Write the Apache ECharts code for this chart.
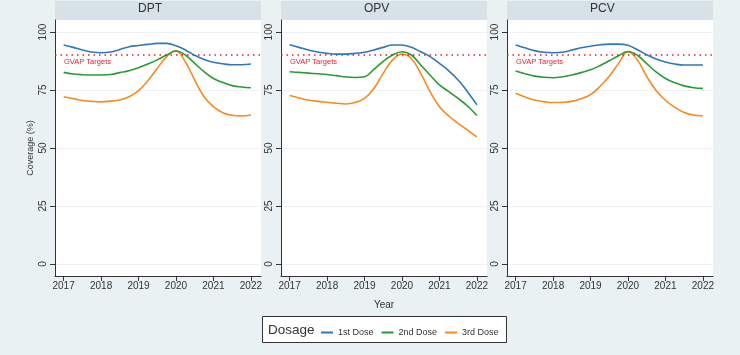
<!DOCTYPE html>
<html><head><meta charset="utf-8">
<script src="https://cdn.jsdelivr.net/npm/echarts@6/dist/echarts.min.js"></script>
<style>html,body{margin:0;padding:0;background:#eaf1f3}#c{width:740px;height:355px}</style>
</head><body><div id="c"></div>
<script>
const panels = ['DPT', 'OPV', 'PCV'];
const doses = ['1st Dose', '2nd Dose', '3rd Dose'];
const years = [2017, 2017.25, 2017.5, 2017.75, 2018, 2018.25, 2018.5, 2018.75, 2019, 2019.25, 2019.5,
  2019.75, 2020, 2020.25, 2020.5, 2020.75, 2021, 2021.25, 2021.5, 2021.75, 2022];
const yearTicks = [2017, 2018, 2019, 2020, 2021, 2022];
const yTicks = [0, 25, 50, 75, 100];
const gvapTarget = 90;

const dpt1 = [94.4, 93.4, 92.3, 91.4, 91.1, 91.4, 92.5, 93.7, 94.2, 94.7, 95.1, 95.1, 94.1, 92.3, 90.0, 88.2, 87.0, 86.3, 85.9, 85.9, 86.2];
const dpt2 = [82.6, 81.9, 81.6, 81.5, 81.5, 81.7, 82.5, 83.3, 84.6, 86.2, 88.0, 90.1, 91.8, 90.1, 86.5, 82.9, 80.0, 78.2, 76.9, 76.3, 76.0];
const dpt3 = [72.1, 71.3, 70.5, 70.1, 69.9, 70.2, 70.7, 72.1, 74.7, 79.0, 84.3, 89.4, 91.8, 87.2, 79.3, 72.1, 67.8, 65.2, 64.1, 63.8, 64.2];

const opv1 = [94.5, 93.4, 92.3, 91.4, 90.8, 90.5, 90.5, 90.8, 91.3, 92.3, 93.4, 94.4, 94.4, 93.4, 91.5, 89.4, 86.5, 83.3, 79.3, 74.3, 68.6];
const opv2 = [82.9, 82.6, 82.3, 82.0, 81.7, 81.2, 80.6, 80.4, 80.7, 83.9, 87.4, 90.1, 91.5, 90.1, 85.8, 81.5, 77.2, 74.3, 71.4, 68.1, 64.0];
const opv3 = [72.6, 71.6, 70.7, 70.1, 69.7, 69.3, 69.0, 69.6, 71.4, 75.7, 82.2, 88.0, 90.5, 88.6, 82.2, 74.3, 67.8, 63.8, 60.6, 57.7, 54.8];

const pcv1 = [94.4, 93.2, 92.0, 91.3, 91.1, 91.3, 92.2, 93.2, 93.9, 94.5, 94.8, 94.8, 94.3, 92.4, 90.2, 88.4, 87.1, 86.2, 85.8, 85.8, 85.8];
const pcv2 = [83.2, 82.0, 81.0, 80.5, 80.3, 80.7, 81.5, 82.5, 83.7, 85.5, 87.6, 89.8, 91.6, 90.0, 86.4, 82.8, 80.0, 78.1, 76.8, 76.0, 75.7];
const pcv3 = [73.6, 72.0, 70.7, 70.0, 69.6, 69.7, 70.1, 71.2, 73.0, 76.5, 80.9, 86.5, 91.5, 88.0, 80.9, 74.8, 70.6, 67.5, 65.3, 64.2, 63.8];

const panelData = [[dpt1, dpt2, dpt3], [opv1, opv2, opv3], [pcv1, pcv2, pcv3]];
const colors = ['#2f78b8', '#2a9a35', '#f58a1f'];

const gridLefts = [55, 281, 507];
const gridW = 206, gridTop = 20, gridH = 256;

const grids = [], xAxes = [], yAxes = [], series = [], graphics = [];
panels.forEach((name, i) => {
  grids.push({left: gridLefts[i], top: gridTop, width: gridW, height: gridH,
    show: true, backgroundColor: '#ffffff', borderWidth: 0});
  xAxes.push({type: 'value', gridIndex: i, min: 2016.77, max: 2022.27,
    name: i === 1 ? 'Year' : '', nameLocation: 'middle', nameGap: 24,
    nameTextStyle: {fontSize: 10, color: '#333', fontFamily: 'Liberation Sans'},
    axisLine: {onZero: false, lineStyle: {color: '#333', width: 1}},
    axisTick: {show: true, length: 5, customValues: yearTicks, lineStyle: {color: '#333'}},
    axisLabel: {customValues: yearTicks, fontSize: 10, color: '#333', margin: 5,
      fontFamily: 'Liberation Sans', formatter: v => String(v)},
    splitLine: {show: false}});
  yAxes.push({type: 'value', gridIndex: i, min: -5.2, max: 105.2,
    name: i === 0 ? 'Coverage (%)' : '', nameLocation: 'middle', nameGap: 20,
    nameTextStyle: {fontSize: 9, color: '#333', fontFamily: 'Liberation Sans'},
    axisLine: {show: true, onZero: false, lineStyle: {color: '#333', width: 1}},
    axisTick: {show: true, length: 5, customValues: yTicks, lineStyle: {color: '#333'}},
    axisLabel: {customValues: yTicks, rotate: 90, fontSize: 10, color: '#333', margin: 7,
      fontFamily: 'Liberation Sans'},
    splitLine: {show: true, lineStyle: {color: '#eef2f4', width: 1}}});
  panelData[i].forEach((vals, k) => {
    const s = {
      name: doses[k], type: 'line', xAxisIndex: i, yAxisIndex: i,
      data: years.map((y, j) => [y, vals[j]]),
      smooth: 0.4, showSymbol: false, symbol: 'none',
      lineStyle: {color: colors[k], width: 1.6}, itemStyle: {color: colors[k]},
      z: 5 - k
    };
    if (k === 0) {
      s.markLine = {silent: true, symbol: 'none',
        lineStyle: {color: '#e8192c', type: [1.5, 4], width: 1.6},
        label: {show: true, position: 'insideStartBottom', formatter: 'GVAP Targets',
          color: '#e8192c', fontSize: 7.5, distance: [9, 3], fontFamily: 'Liberation Sans'},
        data: [{yAxis: gvapTarget}]};
    }
    series.push(s);
  });
  graphics.push({type: 'rect', left: gridLefts[i], top: 1,
    shape: {width: gridW, height: gridTop - 1}, style: {fill: '#d6e1e8'}, silent: true});
  graphics.push({type: 'text', left: gridLefts[i] + gridW / 2 - 20, top: 3,
    style: {text: name, fontSize: 12, fill: '#333', width: 40, align: 'center',
      fontFamily: 'Liberation Sans'}, silent: true});
});

graphics.push({type: 'rect', left: 262, top: 316, shape: {width: 244, height: 26},
  style: {fill: '#ffffff', stroke: '#333', lineWidth: 1}, z: -1, silent: true});
graphics.push({type: 'text', left: 268, top: 323,
  style: {text: 'Dosage', fontSize: 13.5, fill: '#333', fontFamily: 'Liberation Sans'}, silent: true});

const chart = echarts.init(document.getElementById('c'));
chart.setOption({
  backgroundColor: '#eaf1f3',
  animation: false,
  grid: grids, xAxis: xAxes, yAxis: yAxes, series: series,
  legend: {data: doses, left: 316, top: 323, itemGap: 8, itemWidth: 12, itemHeight: 2,
    icon: 'rect', textStyle: {fontSize: 9, color: '#333', fontFamily: 'Liberation Sans'}},
  graphic: graphics
});
</script></body></html>
